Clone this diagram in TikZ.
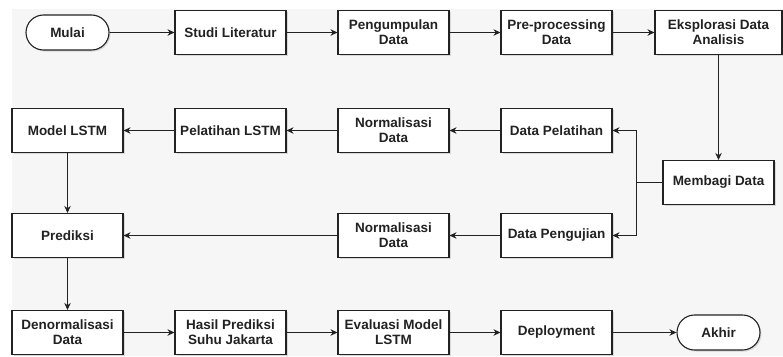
\documentclass[tikz,border=0pt]{standalone}
\usepackage{fontspec}
\setmainfont{Liberation Sans}
\usetikzlibrary{arrows.meta,positioning,shadows}
\definecolor{bggrey}{HTML}{F6F6F6}
\definecolor{inkgrey}{HTML}{222222}

\begin{document}
\begin{tikzpicture}[
  x=1pt, y=-1pt,
  node distance=98pt and 163pt, on grid,
  box/.style={draw=inkgrey, line width=1.1pt, fill=white, align=center, text=inkgrey,
    font=\fontsize{13.5}{15}\selectfont\bfseries, minimum width=111pt, minimum height=44pt,
    inner sep=2pt, drop shadow={opacity=0.25, shadow xshift=1.5pt, shadow yshift=-1.5pt}},
  term/.style={box, rounded corners=17.5pt, minimum width=83pt, minimum height=35pt},
  arr/.style={-{Stealth[length=7pt,width=6.5pt]}, draw=inkgrey, line width=0.8pt}
]
\useasboundingbox (0,0) rectangle (783,356);
\fill[white] (0,0) rectangle (783,356);
\fill[bggrey] (12,9) rectangle (783,356);

\node[term] (mulai) at (67.5,32.5) {Mulai};
\node[box, right=of mulai] (studi) {Studi Literatur};
\node[box, right=of studi] (kumpul) {Pengumpulan\\Data};
\node[box, right=of kumpul] (prepro) {Pre-processing\\Data};
\node[box, right=162pt of prepro, minimum width=127pt] (eksplor) {Eksplorasi Data\\Analisis};
\node[box, below=150pt of eksplor] (bagi) {Membagi Data};
\node[box, below=of prepro] (latih) {Data Pelatihan};
\node[box, below=105pt of latih] (uji) {Data Pengujian};
\node[box, left=of latih] (normA) {Normalisasi\\Data};
\node[box, left=of normA] (pelLSTM) {Pelatihan LSTM};
\node[box, left=of pelLSTM] (model) {Model LSTM};
\node[box, left=of uji] (normB) {Normalisasi\\Data};
\node[box, below=105pt of model] (prediksi) {Prediksi};
\node[box, below=97pt of prediksi] (denorm) {Denormalisasi\\Data};
\node[box, right=of denorm] (hasil) {Hasil Prediksi\\Suhu Jakarta};
\node[box, right=of hasil] (evaluasi) {Evaluasi Model\\LSTM};
\node[box, right=of evaluasi] (deploy) {Deployment};
\node[term, right=162pt of deploy] (akhir) {Akhir};
\coordinate[left=26pt of bagi.west] (cabang);

\draw[arr] (mulai) -- (studi);
\draw[arr] (studi) -- (kumpul);
\draw[arr] (kumpul) -- (prepro);
\draw[arr] (prepro) -- (eksplor);
\draw[arr] (eksplor) -- (bagi);
\draw[arr] (bagi.west) -- (cabang) |- (latih);
\draw[arr] (cabang) |- (uji);
\draw[arr] (latih) -- (normA);
\draw[arr] (normA) -- (pelLSTM);
\draw[arr] (pelLSTM) -- (model);
\draw[arr] (uji) -- (normB);
\draw[arr] (normB) -- (prediksi);
\draw[arr] (model) -- (prediksi);
\draw[arr] (prediksi) -- (denorm);
\draw[arr] (denorm) -- (hasil);
\draw[arr] (hasil) -- (evaluasi);
\draw[arr] (evaluasi) -- (deploy);
\draw[arr] (deploy) -- (akhir);
\end{tikzpicture}
\end{document}
